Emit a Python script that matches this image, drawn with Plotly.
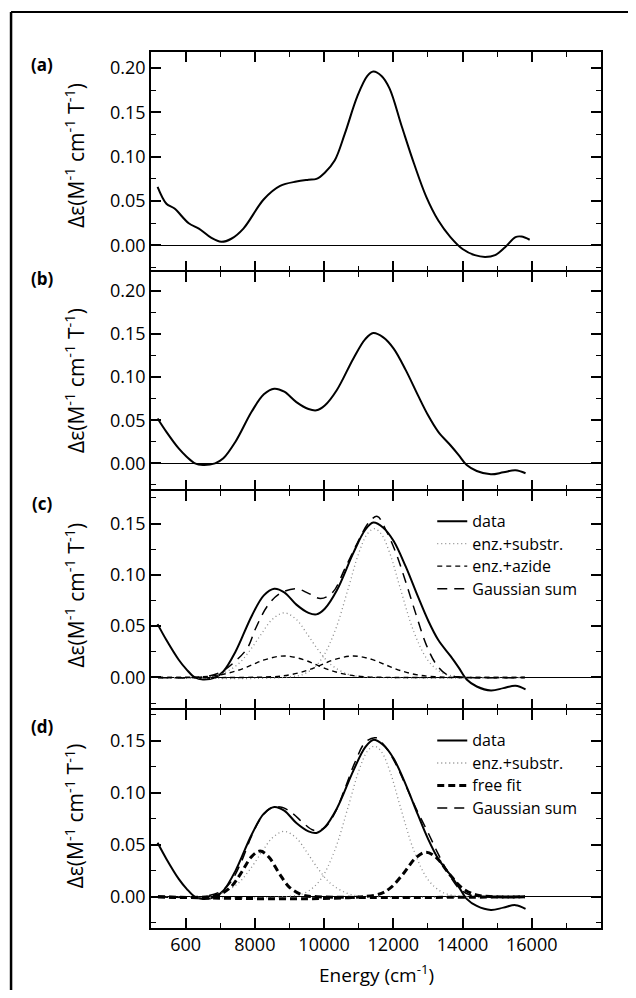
import plotly.graph_objects as go

# ---------------- data ----------------
xa = [5190, 5445, 5680, 6090, 6383, 6735, 7030, 7320, 7670, 8260, 8730, 9200, 9550, 9780,
      10020, 10310, 10600, 10960, 11250, 11420, 11660, 11890, 12245, 12600, 12950, 13300,
      13650, 14000, 14355, 14650, 14940, 15230, 15530, 15700, 15940]
ya = [0.066, 0.047, 0.0415, 0.025, 0.019, 0.0087, 0.004, 0.0075, 0.019, 0.052, 0.067, 0.072,
      0.074, 0.075, 0.082, 0.096, 0.126, 0.168, 0.191, 0.196, 0.191, 0.177, 0.134, 0.092,
      0.055, 0.028, 0.0094, -0.004, -0.011, -0.013, -0.011, -0.002, 0.0094, 0.010, 0.0064]

xb = [5190, 5445, 5800, 6030, 6270, 6500, 6850, 7090, 7440, 7910, 8260, 8560, 8850, 9200,
      9550, 9780, 10020, 10370, 10840, 11190, 11420, 11710, 12010, 12360, 12710, 13000,
      13300, 13650, 13890, 14120, 14410, 14820, 15180, 15530, 15820]
yb = [0.052, 0.0365, 0.0173, 0.0077, 0.0, -0.002, 0.0, 0.0058, 0.025, 0.060, 0.080, 0.0865,
      0.083, 0.071, 0.063, 0.0615, 0.067, 0.085, 0.121, 0.144, 0.151, 0.146, 0.133, 0.108,
      0.079, 0.056, 0.0365, 0.021, 0.0096, -0.002, -0.0088, -0.0127, -0.0104, -0.008, -0.0115]

# enz.+substr. components
xs1 = [5200, 6500, 7000, 7500, 7850, 8200, 8500, 8850, 9200, 9500, 9850, 10200, 10700, 11200, 15800]
ys1 = [0.0, 0.0002, 0.003, 0.0125, 0.026, 0.043, 0.0565, 0.063, 0.0565, 0.043, 0.026, 0.0125, 0.003, 0.0005, 0.0]
xs2 = [5200, 9000, 9500, 9900, 10300, 10700, 11000, 11250, 11450, 11650, 11900, 12200, 12600, 13000, 13400, 13900, 15800]
ys2 = [0.0, 0.0005, 0.0047, 0.0167, 0.044, 0.087, 0.121, 0.140, 0.145, 0.140, 0.121, 0.087, 0.044, 0.0167, 0.0047, 0.0007, 0.0]

# enz.+azide components (panel c)
xaz1 = [5200, 6500, 7000, 7500, 7900, 8300, 8850, 9400, 9800, 10200, 10700, 11200, 11800, 15800]
yaz1 = [0.0, 0.0007, 0.0025, 0.0068, 0.012, 0.0174, 0.021, 0.0174, 0.012, 0.0068, 0.0025, 0.0007, 0.0001, 0.0]
xaz2 = [5200, 8500, 9000, 9500, 9900, 10300, 10850, 11400, 11800, 12200, 12700, 13200, 13800, 15800]
yaz2 = [0.0, 0.0007, 0.0025, 0.0068, 0.012, 0.0174, 0.021, 0.0174, 0.012, 0.0068, 0.0025, 0.0007, 0.0001, 0.0]

# Gaussian sum (panel c)
xgc = [5200, 6500, 7000, 7440, 7790, 8025, 8380, 8730, 9200, 9550, 9900, 10250, 10600, 10960,
       11310, 11540, 11780, 12070, 12360, 12660, 12950, 13240, 13535, 14000, 15800]
ygc = [0.0, 0.0005, 0.005, 0.016, 0.029, 0.048, 0.0705, 0.082, 0.0865, 0.082, 0.077, 0.083,
       0.106, 0.131, 0.152, 0.157, 0.144, 0.122, 0.093, 0.061, 0.032, 0.0128, 0.003, 0.0003, 0.0]

# free fit components (panel d)
xf1 = [5200, 6900, 7300, 7600, 7900, 8150, 8400, 8700, 9000, 9400, 9800, 15800]
yf1 = [0.0, 0.0015, 0.0092, 0.0228, 0.0384, 0.044, 0.0384, 0.0228, 0.0092, 0.0015, 0.0001, 0.0]
xf2 = [5200, 11500, 11900, 12300, 12650, 12950, 13250, 13600, 14000, 14400, 14900, 15800]
yf2 = [0.0, 0.0018, 0.0081, 0.0227, 0.0375, 0.043, 0.0375, 0.0227, 0.0081, 0.0018, 0.0001, 0.0]

# Gaussian sum (panel d)
xgd = [5200, 6500, 7000, 7300, 7600, 7900, 8200, 8500, 8800, 9100, 9400, 9700, 10000, 10300,
       10600, 10900, 11200, 11500, 11800, 12100, 12400, 12700, 13000, 13300, 13600, 13900,
       14200, 14600, 15800]
ygd = [0.0, 0.0003, 0.005, 0.014, 0.033, 0.058, 0.077, 0.086, 0.086, 0.080, 0.071, 0.064, 0.066,
       0.080, 0.104, 0.130, 0.149, 0.153, 0.143, 0.126, 0.104, 0.082, 0.062, 0.041, 0.022, 0.008,
       0.002, 0.0003, 0.0]

x_tickvals = [6000, 8000, 10000, 12000, 14000, 16000]
x_ticktext = ["600", "8000", "10000", "12000", "14000", "16000"]
x_minorvals = [7000, 9000, 11000, 13000, 15000, 17000]
panel_labels = ["(a)", "(b)", "(c)", "(d)"]
ytitle = "Δε(M<sup>-1</sup> cm<sup>-1</sup> T<sup>-1</sup>)"
xtitle = "Energy (cm<sup>-1</sup>)"

# ---------------- styles ----------------
FONT = "Open Sans"
BLACK = "black"
S_DATA = dict(color=BLACK, width=2, shape="spline", smoothing=1.0)
S_SUB = dict(color="#8a8a8a", width=1.3, dash="1px,3px", shape="spline", smoothing=1.0)
S_AZ = dict(color=BLACK, width=1.4, dash="5px,4px", shape="spline", smoothing=1.0)
S_SUM = dict(color=BLACK, width=1.5, dash="10px,7px", shape="spline", smoothing=1.0)
S_FREE = dict(color=BLACK, width=3, dash="7px,4px", shape="spline", smoothing=1.0)

def lg(t):
    return "<span style='font-size:16px'>" + t + "</span>"

fig = go.Figure()

def add(x, y, line, xa_id, ya_id, name=None, legend=None, show=False):
    fig.add_trace(go.Scatter(x=x, y=y, mode="lines", line=line, xaxis=xa_id, yaxis=ya_id,
                             name=name, showlegend=show, legend=legend,
                             hoverinfo="skip"))

# panel a
add(xa, ya, S_DATA, "x", "y")
# panel b
add(xb, yb, S_DATA, "x2", "y2")
# panel c
add(xb, yb, S_DATA, "x3", "y3", lg("data"), "legend", True)
add(xs1, ys1, S_SUB, "x3", "y3", lg("enz.+substr."), "legend", True)
add(xs2, ys2, S_SUB, "x3", "y3")
add(xaz1, yaz1, S_AZ, "x3", "y3", lg("enz.+azide"), "legend", True)
add(xaz2, yaz2, S_AZ, "x3", "y3")
add(xgc, ygc, S_SUM, "x3", "y3", lg("Gaussian sum"), "legend", True)
# panel d
add(xb, yb, S_DATA, "x4", "y4", lg("data"), "legend2", True)
add(xs1, ys1, S_SUB, "x4", "y4", lg("enz.+substr."), "legend2", True)
add(xs2, ys2, S_SUB, "x4", "y4")
add(xf1, yf1, S_FREE, "x4", "y4", lg("free fit"), "legend2", True)
add(xf2, yf2, S_FREE, "x4", "y4")
add(xgd, ygd, S_SUM, "x4", "y4", lg("Gaussian sum"), "legend2", True)

PH = 876.0  # plot-area height in px
g = 0.75 / PH
domains = [[0.75 + g, 1.0], [0.5 + g, 0.75 - g], [0.25 + g, 0.5 - g], [0.0, 0.25 - g]]
yranges = [[-0.028, 0.218], [-0.030, 0.222], [-0.030, 0.182], [-0.030, 0.180]]

# the page body adds an 8px margin, so the figure is sized/offset to compensate
layout = dict(
    width=620, height=982,
    margin=dict(l=143, r=27, t=44, b=62),
    paper_bgcolor="white", plot_bgcolor="white",
    font=dict(family=FONT, size=18, color=BLACK),
)
for i in range(4):
    sx = "" if i == 0 else str(i + 1)
    layout["xaxis" + sx] = dict(
        domain=[0, 1], range=[5000, 18000], anchor="y" + sx,
        showline=True, linecolor=BLACK, linewidth=1.5, mirror="ticks",
        ticks="inside", ticklen=10, tickwidth=1.8, tickcolor=BLACK,
        tickmode="array", tickvals=x_tickvals, ticktext=x_ticktext,
        showticklabels=(i == 3), showgrid=False, zeroline=False,
        minor=dict(tickmode="array", tickvals=x_minorvals, ticks="inside",
                   ticklen=5, tickwidth=1.4, tickcolor=BLACK, showgrid=False),
        tickfont=dict(size=18),
    )
    if i > 0:
        layout["xaxis" + sx]["matches"] = "x"
    layout["yaxis" + sx] = dict(
        domain=domains[i], range=yranges[i], anchor="x" + sx,
        showline=True, linecolor=BLACK, linewidth=1.5, mirror="ticks",
        ticks="inside", ticklen=10, tickwidth=1.8, tickcolor=BLACK,
        tickmode="linear", tick0=0, dtick=0.05, tickformat=".2f",
        showgrid=False, zeroline=True, zerolinecolor=BLACK, zerolinewidth=1.2,
        minor=dict(tickmode="linear", tick0=0, dtick=0.025, ticks="inside",
                   ticklen=5, tickwidth=1.4, tickcolor=BLACK, showgrid=False),
        tickfont=dict(size=18),
    )

layout["legend"] = dict(x=0.625, y=0.483, xanchor="left", yanchor="top",
                        bgcolor="rgba(0,0,0,0)", font=dict(size=15),
                        tracegroupgap=0, itemwidth=30)
layout["legend2"] = dict(x=0.625, y=0.2326, xanchor="left", yanchor="top",
                         bgcolor="rgba(0,0,0,0)", font=dict(size=15),
                         tracegroupgap=0, itemwidth=30)

ann = []
label_y = [0.986, 0.741, 0.485, 0.230]
title_y = [0.882, 0.625, 0.38, 0.128]
for i in range(4):
    ann.append(dict(text="<b>" + panel_labels[i] + "</b>", xref="paper", yref="paper",
                    x=-0.242, y=label_y[i], xanchor="center", yanchor="middle",
                    showarrow=False, font=dict(size=17)))
    ann.append(dict(text=ytitle, xref="paper", yref="paper", x=-0.17, y=title_y[i],
                    xanchor="center", yanchor="middle", textangle=-90,
                    showarrow=False, font=dict(size=21)))
ann.append(dict(text=xtitle, xref="paper", yref="paper", x=0.5, y=-0.052,
                xanchor="center", yanchor="middle", showarrow=False, font=dict(size=19)))
layout["annotations"] = ann

layout["shapes"] = [
    dict(type="line", xref="paper", yref="paper", x0=-0.311, x1=1.2, y0=1.0457, y1=1.0457,
         line=dict(color=BLACK, width=2)),
    dict(type="line", xref="paper", yref="paper", x0=-0.311, x1=-0.311, y0=1.0457, y1=-0.2,
         line=dict(color=BLACK, width=2.5)),
]

fig.update_layout(**layout)
fig.write_html("out.html")
